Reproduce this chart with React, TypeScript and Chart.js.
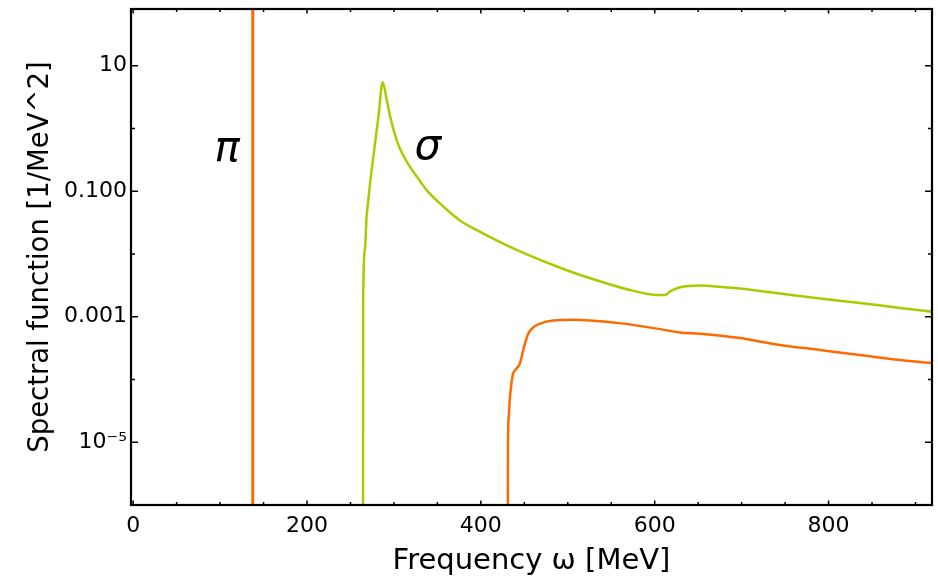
import React, { useEffect, useRef } from "react";
import { Chart, registerables } from "chart.js";

Chart.register(...registerables);

// ---- axes ----
const xMin = -2.5;
const xMax = 919;
const xStep = 50;
const xLabelEvery = 200;
const yMin = 1e-6;
const yMax = 80;
const yTickValues = [1e-6, 1e-5, 1e-4, 1e-3, 1e-2, 1e-1, 1, 10];
const yLabeledTicks = [10, 0.1, 0.001, 1e-5];
const yLabelTexts = ["10", "0.100", "0.001", "10\u207B\u2075"];

const xTitle = "Frequency \u03C9 [MeV]";
const yTitle = "Spectral function [1/MeV^2]";

// ---- series ----
const piOmega = [137.6, 137.6];
const piValue = [1e-9, 1e3];

const sigmaOmega = [
  264.3, 264.5, 264.6, 266.5, 268.5, 270.5, 272.5, 277.2, 282.2, 287.0,
  291.8, 295.6, 303.2, 309.5, 318.4, 330.0, 337.8, 349.8, 364.6, 376.2,
  395.3, 422.1, 455.0, 487.4, 515.2, 544.8, 570.3, 598.4, 612.0, 617.5,
  621.5, 629.2, 640.5, 652.1, 675.6, 698.1, 744.1, 790.2, 836.2, 882.2,
  920.3,
];
const sigmaValue = [
  3e-8, 5e-6, 1.8e-3, 1.15e-2, 3.9e-2, 7.1e-2, 0.132, 0.447, 1.55, 5.43,
  2.82, 1.55, 0.646, 0.398, 0.245, 0.145, 0.103, 0.070, 0.0457, 0.0339,
  0.024, 0.0155, 0.00955, 0.00631, 0.00457, 0.00339, 0.00269, 0.00224, 0.00221, 0.00251,
  0.00269, 0.00295, 0.00309, 0.00313, 0.00299, 0.00282, 0.00234, 0.00195, 0.00166, 0.00138,
  0.0012,
];

const contOmega = [
  431.0, 431.1, 432.0, 433.1, 435.1, 437.0, 440.9, 444.8, 446.7, 450.7,
  454.5, 460.3, 468.0, 483.3, 506.4, 525.5, 563.9, 602.3, 629.2, 652.1,
  698.1, 744.1, 790.2, 836.2, 882.2, 920.3,
];
const contValue = [
  3e-8, 5e-6, 2.45e-5, 4.57e-5, 8.5e-5, 1.23e-4, 1.48e-4, 1.78e-4, 2.24e-4, 3.72e-4,
  5.37e-4, 6.76e-4, 7.76e-4, 8.71e-4, 8.91e-4, 8.71e-4, 7.76e-4, 6.46e-4, 5.62e-4, 5.37e-4,
  4.57e-4, 3.55e-4, 2.95e-4, 2.45e-4, 2.04e-4, 1.82e-4,
];

// ---- annotations ----
const noteTexts = ["\u03C0", "\u03C3"];
const noteOmega = [108, 339];
const noteValue = [0.45, 0.49];

const piColor = "#ff6a00";
const sigmaColor = "#a8cc00";
const FONT = "'DejaVu Sans', sans-serif";

const toPoints = (xs: number[], ys: number[]) => xs.map((x, i) => ({ x, y: ys[i] }));

const isLabeled = (v: number) =>
  yLabeledTicks.findIndex((t) => Math.abs(Math.log10(v) - Math.log10(t)) < 1e-6);

const framePlugin = {
  id: "frameTicks",
  afterDraw(chart: any) {
    const { ctx, chartArea } = chart;
    const { left, right, top, bottom } = chartArea;
    const xs = chart.scales.x;
    const ys = chart.scales.y;
    ctx.save();
    ctx.strokeStyle = "#000";
    ctx.lineWidth = 1.5;
    ctx.beginPath();
    xs.ticks.forEach((t: any) => {
      const px = xs.getPixelForValue(t.value);
      if (px <= left + 1 || px >= right - 1) return;
      const len = t.value % xLabelEvery === 0 ? 4.5 : 3;
      ctx.moveTo(px, bottom);
      ctx.lineTo(px, bottom - len);
      ctx.moveTo(px, top);
      ctx.lineTo(px, top + len);
    });
    ys.ticks.forEach((t: any) => {
      const py = ys.getPixelForValue(t.value);
      if (py <= top + 1 || py >= bottom - 1) return;
      const len = isLabeled(t.value) >= 0 ? 7 : 4;
      ctx.moveTo(left, py);
      ctx.lineTo(left + len, py);
      ctx.moveTo(right, py);
      ctx.lineTo(right - len, py);
    });
    ctx.stroke();
    ctx.lineWidth = 2.2;
    ctx.strokeRect(left, top, right - left, bottom - top);
    ctx.restore();
  },
};

const notePlugin = {
  id: "notes",
  afterDatasetsDraw(chart: any) {
    const { ctx } = chart;
    const xs = chart.scales.x;
    const ys = chart.scales.y;
    ctx.save();
    ctx.fillStyle = "#000";
    ctx.font = `italic 42px ${FONT}`;
    ctx.textAlign = "center";
    ctx.textBaseline = "middle";
    noteTexts.forEach((t, i) => {
      ctx.fillText(t, xs.getPixelForValue(noteOmega[i]), ys.getPixelForValue(noteValue[i]));
    });
    ctx.restore();
  },
};

export default function App() {
  const ref = useRef<HTMLCanvasElement | null>(null);
  useEffect(() => {
    if (!ref.current) return;
    const line = (data: any, color: string, w: number) => ({
      data,
      borderColor: color,
      backgroundColor: color,
      borderWidth: w,
      pointRadius: 0,
      tension: 0,
      cubicInterpolationMode: "monotone" as const,
      fill: false,
    });
    const chart = new Chart(ref.current, {
      type: "line",
      data: {
        datasets: [
          line(toPoints(piOmega, piValue), piColor, 3),
          line(toPoints(contOmega, contValue), piColor, 2.5),
          line(toPoints(sigmaOmega, sigmaValue), sigmaColor, 2.5),
        ],
      },
      options: {
        animation: false,
        responsive: false,
        maintainAspectRatio: false,
        layout: { padding: { top: 9, right: 6, left: 0, bottom: 0 } },
        plugins: { legend: { display: false }, tooltip: { enabled: false } },
        scales: {
          x: {
            type: "linear",
            min: xMin,
            max: xMax,
            grid: { display: false, drawTicks: false, tickLength: 0 },
            border: { display: false },
            afterBuildTicks: (s: any) => {
              const t: any[] = [];
              for (let v = 0; v <= xMax; v += xStep) t.push({ value: v });
              s.ticks = t;
            },
            ticks: {
              autoSkip: false,
              maxRotation: 0,
              padding: 8,
              color: "#000",
              font: { family: FONT, size: 22 },
              callback: (v: any) => (Number(v) % xLabelEvery === 0 ? String(v) : ""),
            },
            title: {
              display: true,
              text: xTitle,
              color: "#000",
              font: { family: FONT, size: 29 },
              padding: { top: 0, bottom: 5 },
            },
            afterFit: (s: any) => {
              s.height = 79;
              s.paddingLeft = 0;
              s.paddingRight = 0;
            },
          },
          y: {
            type: "logarithmic",
            min: yMin,
            max: yMax,
            grid: { display: false, drawTicks: false, tickLength: 0 },
            border: { display: false },
            afterBuildTicks: (s: any) => {
              s.ticks = yTickValues.map((v) => ({ value: v }));
            },
            ticks: {
              autoSkip: false,
              padding: 4,
              color: "#000",
              font: { family: FONT, size: 22 },
              callback: (v: any) => {
                const i = isLabeled(Number(v));
                return i >= 0 ? yLabelTexts[i] : "";
              },
            },
            title: {
              display: true,
              text: yTitle,
              color: "#000",
              font: { family: FONT, size: 27.5 },
              padding: { top: 24, bottom: 0 },
            },
            afterFit: (s: any) => {
              s.width = 131;
              s.paddingTop = 0;
              s.paddingBottom = 0;
            },
          },
        },
      },
      plugins: [framePlugin, notePlugin],
    });
    return () => chart.destroy();
  }, []);
  return (
    <div style={{ position: "fixed", left: 0, top: 0, width: 938, height: 584, background: "#fff" }}>
      <canvas ref={ref} width={938} height={584} style={{ width: 938, height: 584 }} />
    </div>
  );
}
